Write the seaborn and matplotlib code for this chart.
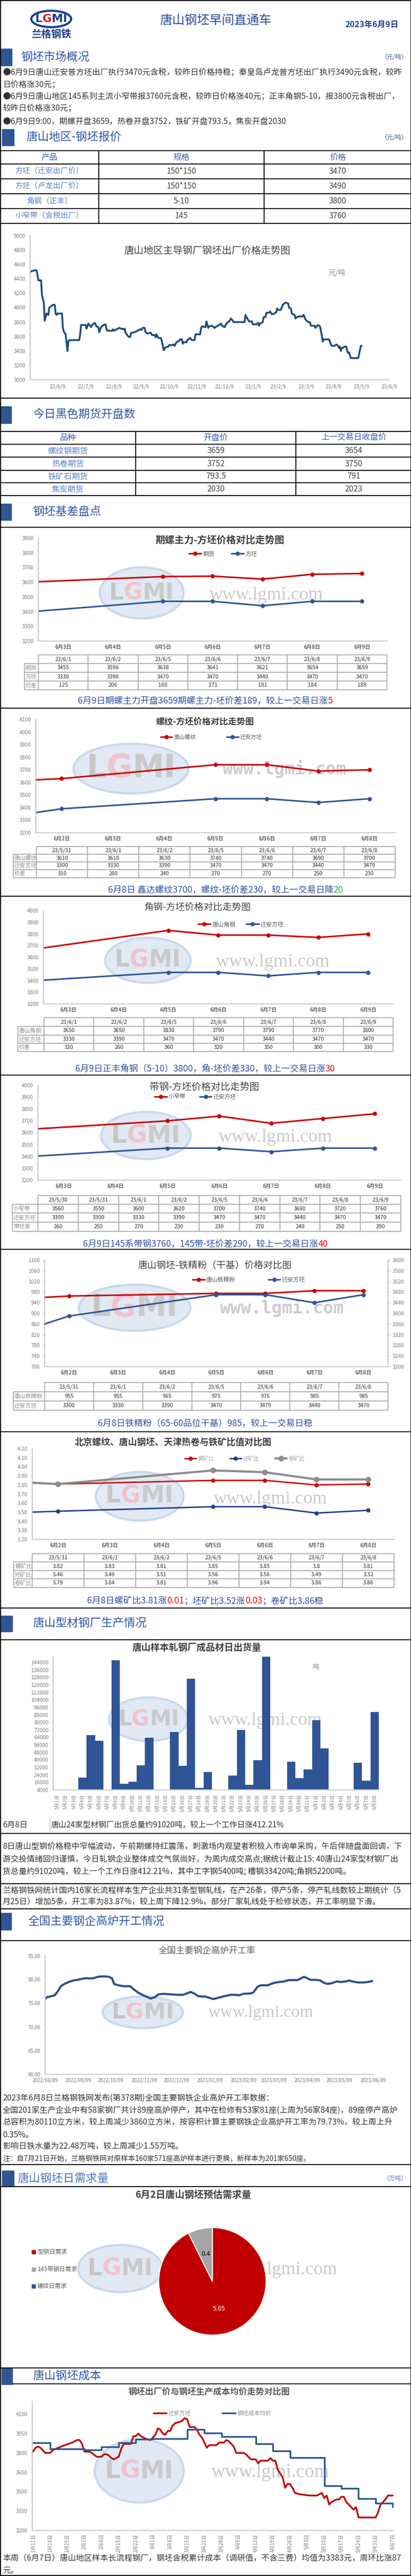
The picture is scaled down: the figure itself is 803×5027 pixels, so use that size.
import numpy as np
import pandas as pd
import matplotlib
matplotlib.use("Agg")
import matplotlib.pyplot as plt
import seaborn as sns
from matplotlib.patches import Rectangle, Ellipse
from matplotlib.ticker import FuncFormatter
from matplotlib.offsetbox import TextArea, HPacker, AnnotationBbox

# ---------------- data ----------------
report_title = "唐山钢坯早间直通车"
report_date = "2023年6月9日"

bullets = [
    "●6月9日唐山迁安普方坯出厂执行3470元含税，较昨日价格持稳；秦皇岛卢龙普方坯出厂执行3490元含税，较昨",
    "日价格涨30元；",
    "●6月9日唐山地区145系列主流小窄带报3760元含税，较昨日价格涨40元；正丰角钢5-10，报3800元含税出厂，",
    "较昨日价格涨30元；",
    "●6月9日9:00，期螺开盘3659，热卷开盘3752，铁矿开盘793.5，焦炭开盘2030",
]

quote_products = ["方坯（迁安出厂价）", "方坯（卢龙出厂价）", "角钢（正丰）", "小窄带（含税出厂）"]
quote_specs = ["150*150", "150*150", "5-10", "145"]
quote_prices = [3470, 3490, 3800, 3760]

futures_names = ["螺纹钢期货", "热卷期货", "铁矿石期货", "焦炭期货"]
futures_open = ["3659", "3752", "793.5", "2030"]
futures_prev = ["3654", "3750", "791", "2023"]

# Tangshan billet ex-works price, days after 2022-06-09
hist_start = "2022-06-09"
hist_day = [0, 5, 7, 8, 9, 12, 13, 15, 16, 17,
            18, 20, 21, 23, 25, 27, 28, 29, 30, 35,
            36, 37, 39, 41, 42, 43, 54, 55, 56, 61,
            62, 64, 67, 68, 71, 73, 75, 76, 78, 81,
            83, 84, 85, 90, 91, 92, 98, 100, 103, 104,
            105, 108, 110, 111, 115, 121, 122, 124, 126, 127,
            129, 131, 133, 134, 137, 138, 139, 141, 144, 145,
            147, 149, 152, 153, 156, 158, 159, 161, 164, 165,
            167, 168, 169, 172, 173, 176, 178, 181, 182, 187,
            188, 189, 193, 194, 196, 197, 200, 203, 205, 208,
            210, 211, 214, 216, 219, 221, 223, 224, 236, 237,
            239, 241, 244, 245, 249, 251, 252, 253, 256, 257,
            259, 260, 263, 264, 266, 269, 271, 272, 273, 276,
            278, 281, 284, 285, 287, 288, 289, 291, 292, 294,
            296, 300, 301, 303, 305, 307, 308, 309, 313, 314,
            316, 317, 319, 321, 322, 323, 329, 331, 332, 335,
            337, 339, 340, 341, 342, 343, 344, 346, 348, 349,
            350, 351, 353, 361, 362, 364, 365]
hist_price = [4500, 4520, 4520, 4460, 4380, 4380, 4170, 4070, 3820, 3870,
              3920, 3900, 4000, 4020, 4040, 4040, 3920, 3900, 3920, 3920,
              3720, 3670, 3630, 3400, 3530, 3550, 3550, 3630, 3760, 3760,
              3710, 3780, 3730, 3760, 3790, 3740, 3730, 3660, 3730, 3760,
              3770, 3700, 3680, 3680, 3700, 3680, 3720, 3710, 3700, 3710,
              3650, 3600, 3590, 3650, 3660, 3700, 3690, 3720, 3720, 3660,
              3640, 3650, 3650, 3620, 3620, 3590, 3630, 3580, 3580, 3530,
              3410, 3450, 3460, 3480, 3480, 3490, 3470, 3520, 3540, 3560,
              3560, 3500, 3520, 3520, 3550, 3580, 3550, 3550, 3630, 3630,
              3710, 3740, 3730, 3810, 3720, 3740, 3750, 3720, 3740, 3760,
              3780, 3750, 3730, 3780, 3810, 3850, 3820, 3800, 3800, 3900,
              3850, 3810, 3810, 3770, 3770, 3790, 3750, 3780, 3800, 3870,
              3870, 3930, 3930, 3950, 3910, 3920, 3940, 3990, 3970, 3970,
              4040, 4070, 4060, 4000, 3990, 3920, 3910, 3900, 3850, 3870,
              3880, 3880, 3900, 3840, 3810, 3800, 3800, 3750, 3750, 3720,
              3750, 3760, 3740, 3620, 3530, 3560, 3560, 3490, 3470, 3470,
              3490, 3470, 3440, 3460, 3400, 3440, 3440, 3460, 3460, 3400,
              3370, 3380, 3300, 3300, 3350, 3470, 3470]
hist_ticks = ["22/6/9", "22/7/9", "22/8/9", "22/9/9", "22/10/9", "22/11/9", "22/12/9",
              "23/1/9", "23/2/9", "23/3/9", "23/4/9", "23/5/9", "23/6/9"]

# futures rebar vs billet
fb_dates = ["2023-06-01", "2023-06-02", "2023-06-05", "2023-06-06", "2023-06-07", "2023-06-08", "2023-06-09"]
fb_fut = [3455, 3596, 3638, 3641, 3621, 3654, 3659]
fb_billet = [3330, 3390, 3470, 3470, 3440, 3470, 3470]
fb_spread = [125, 206, 168, 171, 181, 184, 189]

# rebar vs billet
rb_dates = ["2023-05-31", "2023-06-01", "2023-06-02", "2023-06-05", "2023-06-06", "2023-06-07", "2023-06-08"]
rb_rebar = [3610, 3610, 3630, 3740, 3740, 3690, 3700]
rb_billet = [3300, 3330, 3390, 3470, 3470, 3440, 3470]
rb_spread = [310, 280, 240, 270, 270, 250, 230]

# angle vs billet
ag_dates = ["2023-06-01", "2023-06-02", "2023-06-05", "2023-06-06", "2023-06-07", "2023-06-08", "2023-06-09"]
ag_angle = [3650, 3650, 3830, 3790, 3790, 3770, 3800]
ag_billet = [3330, 3390, 3470, 3470, 3440, 3470, 3470]
ag_spread = [320, 260, 360, 320, 350, 300, 330]

# strip vs billet
st_dates = ["2023-05-30", "2023-05-31", "2023-06-01", "2023-06-02", "2023-06-05",
            "2023-06-06", "2023-06-07", "2023-06-08", "2023-06-09"]
st_strip = [3560, 3550, 3600, 3620, 3700, 3740, 3680, 3720, 3760]
st_billet = [3300, 3300, 3330, 3390, 3470, 3470, 3440, 3470, 3470]
st_spread = [260, 250, 270, 230, 230, 270, 240, 250, 290]

# iron ore concentrate vs billet
ore_dates = ["2023-05-31", "2023-06-01", "2023-06-02", "2023-06-05", "2023-06-06", "2023-06-07", "2023-06-08"]
ore_price = [955, 955, 965, 975, 975, 985, 985]
ore_billet = [3300, 3330, 3390, 3470, 3470, 3440, 3470]

# ratios to ore
ratio_dates = ["2023-05-31", "2023-06-01", "2023-06-02", "2023-06-05", "2023-06-06", "2023-06-07", "2023-06-08"]
ratio_rebar = [3.82, 3.83, 3.81, 3.85, 3.85, 3.80, 3.81]
ratio_billet = [3.46, 3.49, 3.51, 3.56, 3.56, 3.49, 3.52]
ratio_coil = [3.79, 3.84, 3.81, 3.96, 3.94, 3.86, 3.86]

# daily shipments of sample mills, 5/1 .. 6/8 (0 = no data)
ship_start, ship_end = "2023-05-01", "2023-06-08"
ship_tons = [0, 0, 0, 21000, 66500, 60200, 0, 146300, 14700, 16500,
             34000, 63800, 0, 0, 69600, 33600, 126500, 10200, 27300, 0,
             0, 23200, 72100, 13300, 39800, 152000, 0, 0, 38200, 20500,
             30000, 82200, 52400, 0, 0, 0, 37100, 17770, 91020]

# blast furnace utilisation, days after 2022-08-09
bf_start = "2022-08-09"
bf_day = [0, 2, 6, 9, 12, 15, 19, 23, 26, 31, 35, 38, 42, 45, 49, 54, 59, 62, 64, 68,
          73, 79, 82, 86, 90, 94, 98, 102, 105, 110, 116, 122, 128, 135, 138, 142, 149, 153, 156, 161,
          166, 172, 176, 180, 184, 191, 193, 197, 200, 206, 212, 217, 221, 226, 231, 234, 240, 243, 246, 250,
          255, 257, 261, 265, 270, 274, 278, 282, 285, 290, 295, 299, 304]
bf_rate = [76.0, 76.3, 76.5, 76.7, 77.6, 78.7, 79.2, 79.6, 79.8, 80.0, 80.2, 80.3, 80.25, 80.3, 80.6, 80.7, 80.6, 80.3, 79.1, 78.8,
           78.6, 78.6, 78.0, 77.3, 76.8, 76.4, 76.0, 76.3, 76.9, 77.0, 76.9, 76.8, 76.8, 77.4, 77.1, 76.5, 76.4, 76.1, 75.9, 76.2,
           76.5, 76.8, 76.8, 76.7, 77.0, 77.1, 77.3, 78.5, 78.8, 78.8, 79.3, 79.5, 79.6, 79.9, 79.9, 79.9, 80.6, 80.3, 79.95, 79.95,
           79.85, 79.5, 79.1, 79.2, 79.6, 79.5, 79.6, 79.8, 79.6, 79.4, 79.4, 79.5, 79.73]

# billet demand pie
demand_names = ["型钢日需求", "145带钢日需求", "螺纹日需求"]
demand_values = [5.05, 0.4, 0.0]
demand_colors = ["#c00000", "#a5a5a5", "#2f5597"]

# billet price vs cost, days after 2023-01-11
cost_start = "2023-01-11"
qa_day = [0, 1, 2, 3, 4, 5, 7, 8, 9, 13, 16, 18, 19, 20, 21, 23, 24, 26, 28, 29,
          30, 31, 32, 33, 35, 36, 37, 40, 41, 42, 43, 44, 45, 46, 48, 49, 50, 51, 52, 53,
          54, 55, 56, 57, 58, 60, 61, 62, 63, 64, 66, 67, 68, 69, 70, 71, 72, 75, 76, 78,
          79, 80, 82, 83, 86, 87, 89, 91, 92, 93, 96, 97, 98, 99, 100, 102, 103, 104, 105, 106,
          107, 109, 113, 116, 118, 119, 120, 121, 122, 124, 125, 126, 127, 128, 129, 131, 132, 133, 140, 141,
          142, 144, 145, 147]
qa_price = [3810, 3840, 3850, 3840, 3820, 3800, 3800, 3820, 3830, 3860, 3880, 3900, 3900, 3870, 3810, 3810, 3800, 3770, 3770, 3790,
            3790, 3780, 3760, 3750, 3770, 3830, 3870, 3870, 3930, 3930, 3950, 3930, 3920, 3910, 3900, 3920, 3940, 3990, 3980, 3950,
            3940, 3970, 3970, 4010, 4030, 4040, 4050, 4070, 4060, 4000, 4000, 3980, 3940, 3920, 3880, 3840, 3860, 3860, 3880, 3880,
            3900, 3890, 3850, 3800, 3800, 3790, 3750, 3750, 3720, 3740, 3740, 3760, 3740, 3740, 3670, 3610, 3530, 3560, 3560, 3530,
            3490, 3480, 3470, 3470, 3490, 3450, 3470, 3400, 3420, 3440, 3440, 3460, 3460, 3420, 3400, 3360, 3380, 3300, 3300, 3340,
            3400, 3440, 3470, 3470]
cost_weekly = [3880, 3830, 3830, 3825, 3845, 3880, 3905, 3912, 3912, 3980, 3955,
               3925, 3925, 3870, 3815, 3765, 3765, 3545, 3525, 3445, 3410, 3383]

# ---------------- page ----------------
sns.set_theme(style="white")
plt.rcParams["font.family"] = ["Noto Sans CJK SC", "DejaVu Sans"]
plt.rcParams["axes.unicode_minus"] = False

W, H = 804, 5027
BLUE = "#2f55a0"
BAR = "#2f5597"
TXT = "#333333"
GRAY = "#7f7f7f"
CAP = "#2f4f9f"
RED = "#c00000"
NAVY = "#1f4e79"

fig = plt.figure(figsize=(W / 100, H / 100), dpi=100)
page = fig.add_axes([0, 0, 1, 1], zorder=-10)
page.set_xlim(0, W)
page.set_ylim(H, 0)
page.axis("off")


def rect(x0, y0, x1, y1):
    return [x0 / W, 1 - y1 / H, (x1 - x0) / W, (y1 - y0) / H]


def fxy(x, y):
    return (x / W, 1 - y / H)


def hline(y, x0=0, x1=W, color="black", lw=1.3):
    page.plot([x0, x1], [y, y], color=color, lw=lw, solid_capstyle="butt", zorder=3)


def vline(x, y0, y1, color="black", lw=1.3):
    page.plot([x, x], [y0, y1], color=color, lw=lw, solid_capstyle="butt", zorder=3)


def txt(x, y, s, size=11.4, color=TXT, ha="left", weight="normal", **kw):
    page.text(x, y, s, fontsize=size, color=color, ha=ha, va="center", fontweight=weight, zorder=4, **kw)


def section(y0, y1, bx0, bx1, title, tx, unit=None, color=BLUE):
    page.add_patch(Rectangle((bx0, y0), bx1 - bx0, y1 - y0, color=BAR, zorder=2))
    txt(tx, (y0 + y1) / 2, title, size=16, color=color)
    if unit:
        txt(796, (y0 + y1) / 2, unit, size=8.5, color=color, ha="right")


def caption(x, y, parts, size=12.4):
    boxes = [TextArea(s, textprops=dict(color=c, fontsize=size)) for s, c in parts]
    pack = HPacker(children=boxes, align="center", pad=0, sep=0)
    page.add_artist(AnnotationBbox(pack, (x, y), xycoords="data", frameon=False,
                                   box_alignment=(0.5, 0.5), pad=0))


def black_table(xe, ye, rows, sizes=(11.5, 11, 11.2)):
    for y in ye:
        hline(y)
    for x in xe[1:-1]:
        vline(x, ye[0], ye[-1])
    for r, row in enumerate(rows):
        yc = (ye[r] + ye[r + 1]) / 2
        for c, s in enumerate(row):
            xc = (xe[c] + xe[c + 1]) / 2
            if r == 0:
                txt(xc, yc, s, size=sizes[0], color="#3a5ea8", ha="center")
            elif c == 0:
                txt(xc, yc, s, size=sizes[1], color="#5b80c6", ha="center")
            else:
                txt(xc, yc, s, size=sizes[2], color="#444444", ha="center")


def chart_table(xl, x0, x1, ye, head, rows, size=7.7):
    n = len(head)
    xe = np.linspace(x0, x1, n + 1)
    lc = "#a6a6a6"
    hline(ye[0], x0, x1, color=lc, lw=1.2)
    for y in ye[1:]:
        hline(y, xl, x1, color=lc, lw=1.2)
    vline(xl, ye[1], ye[-1], color=lc, lw=1.2)
    for x in xe:
        vline(x, ye[0], ye[-1], color=lc, lw=1.2)
    for c, s in enumerate(head):
        txt((xe[c] + xe[c + 1]) / 2, (ye[0] + ye[1]) / 2, s, size=size, ha="center")
    for r, (label, vals) in enumerate(rows):
        yc = (ye[r + 1] + ye[r + 2]) / 2
        txt(xl + 2, yc, label, size=8, color="#8c8c8c")
        for c, v in enumerate(vals):
            txt((xe[c] + xe[c + 1]) / 2, yc, str(v), size=size, ha="center")


def watermark(cx, cy, w, h, tx, ty, mono=False, tsize=26):
    page.add_patch(Ellipse((cx, cy), w, h, facecolor="#dde7f3", edgecolor="#c6d6ea",
                           lw=3, alpha=0.9, zorder=1))
    fpx = min(w * 0.78 / 2.83, h * 0.85)
    fs = fpx * 0.72
    x = cx - 2.83 * fpx / 2
    kw = dict(fontsize=fs, fontweight="bold", family="DejaVu Sans", va="center", ha="left", zorder=1.5)
    page.text(x, cy, "L", color="#c6c6c6", **kw)
    page.text(x + 0.637 * fpx, cy, "G", color="#f1c3cc", **kw)
    page.text(x + 1.458 * fpx, cy, "MI", color="#cacaca", **kw)
    if mono:
        page.text(tx, ty, "www.lgmi.com", family="DejaVu Sans Mono", fontweight="bold",
                  fontsize=tsize - 2, color="#cccccc", ha="center", va="center", zorder=1.5)
    else:
        page.text(tx, ty, "www.lgmi.com", family="Liberation Serif", fontsize=tsize,
                  color="#c9c9c9", ha="center", va="center", zorder=1.5)


def style(ax):
    ax.set_facecolor("none")
    for s in ("top", "right"):
        ax.spines[s].set_visible(False)
    ax.spines["left"].set_color("#bfbfbf")
    ax.spines["bottom"].set_color("#d0d0d0")
    ax.spines["bottom"].set_linewidth(1.6)
    ax.tick_params(colors=GRAY, labelsize=7.5, length=3, width=0.8)
    ax.tick_params(axis="both", which="both", color="#bfbfbf")
    ax.set_xlabel("")
    ax.set_ylabel("")
    ax.grid(False)


def cat_format(ax, cats, ylim, ystep, fmt="{:.0f}"):
    style(ax)
    n = len(cats)
    ax.set_xlim(-0.5, n - 0.5)
    ax.set_ylim(*ylim)
    ax.set_yticks(np.arange(ylim[0], ylim[1] + ystep / 2, ystep))
    ax.yaxis.set_major_formatter(FuncFormatter(lambda v, p: fmt.format(v)))
    ax.set_xticks(np.arange(n + 1) - 0.5, [""] * (n + 1))
    ax.set_xticks(np.arange(n), cats, minor=True)
    ax.tick_params(axis="x", which="major", length=5)
    ax.tick_params(axis="x", which="minor", length=0, pad=5, labelsize=7.5)


def positions(dates, start):
    return (pd.to_datetime(dates) - pd.Timestamp(start)).days.to_numpy()


def cat_lines(ax, pos, series, ms=6):
    for name, vals, color, lw in series:
        sns.lineplot(x=pos, y=vals, ax=ax, color=color, linewidth=lw, marker="o",
                     markersize=ms, markeredgewidth=0, label=name, legend=False)


def legend(ax, cx, cy, fs, colsp, handles=None, labels=None, hl=2.1, color="#595959"):
    if handles is None:
        handles, labels = ax.get_legend_handles_labels()
    ax.legend(handles, labels, loc="center", bbox_to_anchor=fxy(cx, cy), bbox_transform=fig.transFigure,
              ncol=len(handles), frameon=False, fontsize=fs, handlelength=hl, handletextpad=0.3,
              columnspacing=colsp, labelcolor=color, borderpad=0)


# frame
vline(0.7, 0, H)
vline(803.3, 0, H)
hline(0.7)
hline(H - 0.7)

# header with logo
page.add_patch(Ellipse((100, 37), 78, 32, facecolor="white", edgecolor="#1d3f8f", lw=3, zorder=2))
lx = 100 - 2.83 * 22 / 2
lkw = dict(fontsize=16, fontweight="bold", family="DejaVu Sans", va="center", ha="left", zorder=3)
page.text(lx, 37, "L", color="#1d3f8f", **lkw)
page.text(lx + 0.637 * 22, 37, "G", color="#d8202a", **lkw)
page.text(lx + 1.458 * 22, 37, "MI", color="#1d3f8f", **lkw)
txt(100, 67, "兰格钢铁", size=14, color="#1d3f8f", ha="center", weight="bold")
txt(421, 40, report_title, size=17.5, color="#2b4c9b", ha="center")
txt(727, 48, report_date, size=11.5, color="#1f3f8f", ha="center", weight="bold")

section(95, 128, 1, 23, "钢坯市场概况", 41, "（元/吨）")
for y, line in zip([142, 165, 189, 212, 237], bullets):
    txt(5, y, line, size=11.3)

section(252, 284, 4, 27, "唐山地区-钢坯报价", 51, "（元/吨）")
black_table([0, 193, 516, W], [294, 320, 349, 378, 407, 436],
            [["产品", "规格", "价格"]] + [[a, b, str(c)] for a, b, c in zip(quote_products, quote_specs, quote_prices)],
            sizes=(11.5, 10.7, 11))

# ---- billet price history ----
ax = fig.add_axes(rect(59, 460, 760, 741))
hist_dates = pd.Timestamp(hist_start) + pd.to_timedelta(hist_day, unit="D")
sns.lineplot(x=hist_dates, y=hist_price, ax=ax, color=NAVY, linewidth=2.6)
style(ax)
ax.set_ylim(3000, 5000)
ax.set_yticks(np.arange(3000, 5001, 200))
ax.set_xlim(pd.Timestamp("2022-06-09"), pd.Timestamp("2023-06-09"))
ax.set_xticks(pd.date_range("2022-06-09", periods=13, freq="MS") + pd.Timedelta(days=8), hist_ticks)
ax.tick_params(axis="x", pad=3)
txt(405, 489, "唐山地区主导钢厂钢坯出厂价格走势图", size=13.8, color="#404040", ha="center")
txt(658, 533, "元/吨", size=10, color="#8c8c8c", ha="center")
hline(777)

section(793, 826, 1, 22, "今日黑色期货开盘数", 64)
black_table([0, 265, 578, W], [842, 867, 892, 918, 942, 967],
            [["品种", "开盘价", "上一交易日收盘价"]] + [list(r) for r in zip(futures_names, futures_open, futures_prev)],
            sizes=(11.5, 11.3, 11.3))

section(983, 1015, 1, 22, "钢坯基差盘点", 64)
hline(1029)

# ---- chart 1: futures rebar vs billet ----
cats_3_9 = ["6月3日", "6月4日", "6月5日", "6月6日", "6月7日", "6月8日", "6月9日"]
cats_2_8 = ["6月2日", "6月3日", "6月4日", "6月5日", "6月6日", "6月7日", "6月8日"]

watermark(277, 1157, 164, 100, 520, 1162)
ax = fig.add_axes(rect(75, 1050, 756, 1251))
cat_lines(ax, positions(fb_dates, "2023-06-03"),
          [("期货", fb_fut, "#cc0000", 2.2), ("方坯", fb_billet, "#2f5597", 2.2)])
cat_format(ax, cats_3_9, (3200, 3900), 100)
legend(ax, 436, 1081, 8.3, 2.8)
txt(430, 1054, "期螺主力-方坯价格对比走势图", size=13.6, color="#404040", ha="center", weight="bold")
chart_table(48, 75, 756, [1278, 1295, 1312, 1329, 1346], [d[2:].replace("-0", "/").replace("-", "/") for d in fb_dates],
            [("期货", fb_fut), ("方坯", fb_billet), ("价差", fb_spread)])
caption(401, 1368, [("6月9日期螺主力开盘3659期螺主力-坯价差189，较上一交易日涨", CAP), ("5", "red")])
hline(1382)

# ---- chart 2: rebar vs billet ----
watermark(256, 1500, 225, 97, 556, 1500, mono=True)
ax = fig.add_axes(rect(70, 1404, 772, 1625))
cat_lines(ax, positions(rb_dates, "2023-06-02"),
          [("唐山螺纹", rb_rebar, "#cc0000", 2.2), ("迁安方坯", rb_billet, "#2f5597", 2.2)])
cat_format(ax, cats_2_8, (3200, 4100), 100)
legend(ax, 413, 1439, 7.8, 5.5)
txt(400, 1409, "螺纹-方坯价格对比走势图", size=12.2, color="#404040", ha="center", weight="bold")
chart_table(26, 71, 772, [1652, 1667, 1682, 1697, 1713], [d[2:].replace("-0", "/").replace("-", "/") for d in rb_dates],
            [("唐山螺纹", rb_rebar), ("迁安方坯", rb_billet), ("价差", rb_spread)])
caption(441, 1737, [("6月8日 鑫达螺纹3700，螺纹-坯价差230，较上一交易日降", CAP), ("20", "#3a9a3a")])
hline(1749)

# ---- chart 3: angle vs billet ----
watermark(289, 1874, 167, 88, 533, 1877)
ax = fig.add_axes(rect(85, 1777, 768, 1959))
cat_lines(ax, positions(ag_dates, "2023-06-03"),
          [("唐山角钢", ag_angle, "#cc0000", 2.2), ("迁安方坯", ag_billet, "#2f5597", 2.2)])
cat_format(ax, cats_3_9, (3200, 4000), 100)
legend(ax, 471, 1804, 8.3, 1.8)
txt(386, 1772, "角钢-方坯价格对比走势图", size=13.2, color="#404040", ha="center")
chart_table(35, 86, 768, [1986, 2003, 2020, 2036, 2052], [d[2:].replace("-0", "/").replace("-", "/") for d in ag_dates],
            [("唐山角钢", ag_angle), ("迁安方坯", ag_billet), ("价差", ag_spread)])
caption(401, 2086, [("6月9日正丰角钢（5-10）3800，角-坯价差330，较上一交易日涨", CAP), ("30", "red")])
hline(2098)

# ---- chart 4: strip vs billet ----
watermark(285, 2216, 175, 92, 538, 2220)
ax = fig.add_axes(rect(74, 2118, 783, 2303))
cat_lines(ax, positions(st_dates, "2023-06-03"),
          [("小窄带", st_strip, "#cc0000", 2.2), ("迁安方坯", st_billet, "#2f5597", 2.2)])
cat_format(ax, cats_3_9, (3200, 4000), 100)
legend(ax, 382, 2140, 8.1, 2.4)
txt(399, 2121, "带钢-方坯价格对比走势图", size=13.6, color="#404040", ha="center")
chart_table(24, 74, 783, [2333, 2350, 2367, 2385, 2403], [d[2:].replace("-0", "/").replace("-", "/") for d in st_dates],
            [("小窄带", st_strip), ("迁安方坯", st_billet), ("带坯差", st_spread)])
caption(401, 2428, [("6月9日145系带钢3760，145带-坯价差290，较上一交易日涨", CAP), ("40", "red")])
hline(2438)

# ---- chart 5: ore concentrate vs billet (dual axis) ----
watermark(263, 2552, 218, 90, 551, 2552, mono=True)
ax = fig.add_axes(rect(87, 2459, 758, 2667))
ax2 = ax.twinx()
pos = positions(ore_dates, "2023-06-02")
cat_lines(ax, pos, [("唐山铁精粉", ore_price, "#cc0000", 2.2)])
cat_lines(ax2, pos, [("迁安方坯", ore_billet, "#2f5597", 2.2)])
cat_format(ax, cats_2_8, (700, 1100), 40)
ax2.set_facecolor("none")
ax2.set_ylim(3200, 3600)
ax2.set_yticks(np.arange(3200, 3601, 40))
ax2.set_ylabel("")
ax2.grid(False)
for s in ("top", "left", "bottom"):
    ax2.spines[s].set_visible(False)
ax2.spines["right"].set_color("#bfbfbf")
ax2.tick_params(colors=GRAY, labelsize=7.5, length=3, width=0.8)
ax2.tick_params(axis="y", color="#bfbfbf")
h1, l1 = ax.get_legend_handles_labels()
h2, l2 = ax2.get_legend_handles_labels()
legend(ax2, 486, 2497, 8.2, 5.6, handles=h1 + h2, labels=l1 + l2)
txt(420, 2470, "唐山钢坯-铁精粉（干基）价格对比图", size=13.2, color="#404040", ha="center")
chart_table(26, 87, 758, [2698, 2716, 2734, 2752], [d[2:].replace("-0", "/").replace("-", "/") for d in ore_dates],
            [("唐山铁精粉", ore_price), ("迁安方坯", ore_billet)])
caption(401, 2778, [("6月8日铁精粉（65-60品位干基）985，较上一交易日稳", CAP)])
hline(2794)

# ---- chart 6: ratios ----
watermark(273, 2920, 172, 95, 528, 2925)
ax = fig.add_axes(rect(63, 2827, 770, 3004))
pos = positions(ratio_dates, "2023-06-02")
cat_lines(ax, pos, [("螺矿比", ratio_rebar, "#d00000", 2.0), ("坯矿比", ratio_billet, "#1f3f8f", 2.0)], ms=6)
cat_lines(ax, pos, [("卷矿比", ratio_coil, "#8c8c8c", 3.0)], ms=8)
cat_format(ax, cats_2_8, (3.2, 4.2), 0.1, fmt="{:.2f}")
legend(ax, 478, 2846, 7.7, 2.9, color="#a6a6a6")
txt(338, 2815, "北京螺纹、唐山钢坯、天津热卷与铁矿比值对比图", size=12.6, color="#404040", ha="center", weight="bold")
chart_table(27, 63, 770, [3032, 3048, 3065, 3081, 3098], [d[2:].replace("-0", "/").replace("-", "/") for d in ratio_dates],
            [("螺矿比", ratio_rebar), ("坯矿比", ratio_billet), ("卷矿比", ratio_coil)])
caption(401, 3124, [("6月8日螺矿比3.81涨", CAP), ("0.01", "red"), ("；坯矿比3.52涨", CAP),
                    ("0.03", "red"), ("；卷矿比3.86稳", CAP)])
hline(3138)

# ---- shipments bar chart ----
section(3153, 3184, 2, 24, "唐山型材钢厂生产情况", 64)
hline(3200)
watermark(290, 3355, 154, 85, 518, 3358)
ax = fig.add_axes(rect(104, 3233, 740, 3493))
ship_labels = [f"{d.month}月{d.day}日" for d in pd.date_range(ship_start, ship_end)]
sns.barplot(x=ship_labels, y=ship_tons, ax=ax, color=BAR, width=1.0, saturation=1, linewidth=0)
style(ax)
ax.set_ylim(8000, 150000)
ax.set_yticks(np.arange(8000, 144001, 8000))
ax.set_xlim(-0.5, len(ship_labels) - 0.5)
ax.set_xticks(np.arange(len(ship_labels)), ship_labels, rotation=90)
ax.set_xticks(np.arange(len(ship_labels) + 1) - 0.5, minor=True)
ax.tick_params(axis="x", which="major", length=0, pad=6, labelsize=6.8)
ax.tick_params(axis="x", which="minor", length=4)
ax.tick_params(axis="y", labelsize=7.5)
txt(385, 3216, "唐山样本轧钢厂成品材日出货量", size=13, color="#404040", ha="center", weight="bold")
txt(617, 3253, "吨", size=9.5, color="#8c8c8c", ha="center")
txt(5, 3561, "6月8日", size=11.3)
vline(97, 3547, 3578, color="#b8c4d8", lw=1)
txt(100, 3561, "唐山24家型材钢厂出货总量约91020吨，较上一个工作日涨412.21%", size=11)
hline(3578)
for y, line in zip([3604, 3628, 3652], [
        "8日唐山型钢价格稳中窄幅波动，午前期螺持红震荡，刺激场内观望者积极入市询单采购，午后伴随盘面回调，下",
        "游交投情绪回归谨慎，今日轧钢企业整体成交气氛尚好，为周内成交高点;据统计截止15: 40唐山24家型材钢厂出",
        "货总量约91020吨，较上一个工作日涨412.21%，其中工字钢5400吨; 槽钢33420吨;角钢52200吨。"]):
    txt(5, y, line, size=11.3)
hline(3676)
for y, line in zip([3690, 3712], [
        "兰格钢铁网统计国内16家长流程样本生产企业共31条型钢轧线，在产26条，停产5条，停产轧线数较上期统计（5",
        "月25日）增加5条，开工率为83.87%，较上周下降12.9%，部分厂家轧线处于检修状态，开工率明显下滑。"]):
    txt(5, y, line, size=11.3)
hline(3725)

# ---- blast furnace utilisation ----
section(3733, 3766, 1, 22, "全国主要钢企高炉开工情况", 54)
hline(3787)
watermark(279, 3927, 157, 62, 510, 3928, tsize=24)
ax = fig.add_axes(rect(88, 3817, 729, 4048))
bf_dates = pd.Timestamp(bf_start) + pd.to_timedelta(bf_day, unit="D")
sns.lineplot(x=bf_dates, y=bf_rate, ax=ax, color="#2f4f8f", linewidth=3)
style(ax)
ax.set_ylim(60, 85)
ax.set_yticks(np.arange(60, 85.1, 5))
ax.yaxis.set_major_formatter(FuncFormatter(lambda v, p: f"{v:.2f}"))
bf_ticks = pd.date_range("2022-08-01", periods=11, freq="MS") + pd.Timedelta(days=8)
ax.set_xlim(bf_ticks[0], bf_ticks[-1])
ax.set_xticks(bf_ticks, [d.strftime("%Y/%m/%d") for d in bf_ticks])
ax.tick_params(axis="x", labelsize=7, pad=2)
ax.tick_params(axis="y", labelsize=7)
txt(404, 3807, "全国主要钢企高炉开工率", size=12.4, color="#595959", ha="center")
for y, line in zip([4094, 4118, 4142, 4167, 4189], [
        "2023年6月8日兰格钢铁网发布(第378期)全国主要钢铁企业高炉开工率数据：",
        "全国201家生产企业中有58家钢厂共计89座高炉停产，其中在检修有53家81座(上周为56家84座)，89座停产高炉",
        "总容积为80110立方米，较上周减少3860立方米，按容积计算主要钢铁企业高炉开工率为79.73%，较上周上升",
        "0.35%。",
        "影响日铁水量为22.48万吨，较上周减少1.55万吨。"]):
    txt(5, y, line, size=11.3)
txt(5, 4212, "注：自7月21日开始，兰格钢铁网对原样本160家571座高炉样本进行更换，新样本为201家650座。", size=10)
hline(4224)

# ---- demand pie ----
section(4236, 4267, 4, 27, "唐山钢坯日需求量", 34, "（万吨）", color="#4f74bb")
hline(4267)
watermark(235, 4427, 165, 92, 548, 4430)
pax = fig.add_axes(rect(284, 4321, 546, 4583))
total = sum(demand_values)
wedges, _, autos = pax.pie(
    demand_values, colors=demand_colors, startangle=90, counterclock=False,
    autopct=lambda p: "" if p * total / 100 < 0.01 else f"{p * total / 100:.2f}".rstrip("0").rstrip("."),
    pctdistance=0.52, wedgeprops=dict(edgecolor="white", linewidth=1.2), textprops=dict(fontsize=9))
autos[0].set_color("white")
autos[1].set_color("black")
pax.set_aspect("equal")
txt(378, 4283, "6月2日唐山钢坯预估需求量", size=13.4, color="#404040", ha="center", weight="bold")
for y, name, color in zip([4394, 4428, 4461], demand_names, demand_colors):
    page.add_patch(Rectangle((62, y - 3.5), 7, 7, color=color, zorder=3))
    txt(73, y, name, size=8.4, color="#595959")
hline(4621)

# ---- cost chart ----
section(4622, 4653, 3, 24, "唐山钢坯成本", 64)
hline(4652, 24, W)
watermark(272, 4822, 174, 123, 528, 4825, tsize=27)
ax = fig.add_axes(rect(63, 4686, 769, 4938))
qa_dates = pd.Timestamp(cost_start) + pd.to_timedelta(qa_day, unit="D")
cost_dates = pd.date_range(cost_start, periods=len(cost_weekly), freq="7D")
sns.lineplot(x=qa_dates, y=qa_price, ax=ax, color="#c00000", linewidth=2.4, label="迁安方坯", legend=False)
sns.lineplot(x=cost_dates, y=cost_weekly, ax=ax, color="#2f5597", linewidth=2.4, drawstyle="steps-post",
             label="钢坯成本均价", legend=False)
style(ax)
ax.set_ylim(3200, 4200)
ax.set_yticks(np.arange(3200, 4101, 150))
ax.set_xlim(pd.Timestamp(cost_start) - pd.Timedelta(hours=8), cost_dates[-1] + pd.Timedelta(hours=8))
ax.set_xticks(cost_dates, [f"{d.month}月{d.day}日" for d in cost_dates], rotation=90)
ax.tick_params(axis="x", labelsize=7, pad=2)
ax.tick_params(axis="y", labelsize=7.5)
legend(ax, 415, 4709, 8, 5.5, hl=2.3, color="#8c8c8c")
txt(409, 4668, "钢坯出厂价与钢坯生产成本均价走势对比图", size=12, color="#595959", ha="center", weight="bold")
txt(5, 4993, "本周（6月7日）唐山地区样本长流程钢厂，钢坯含税累计成本（调研值，不含三费）均值为3383元，周环比涨87", size=11.3)
txt(5, 5016, "元。", size=11.3)

fig.savefig("out.png", dpi=100)
